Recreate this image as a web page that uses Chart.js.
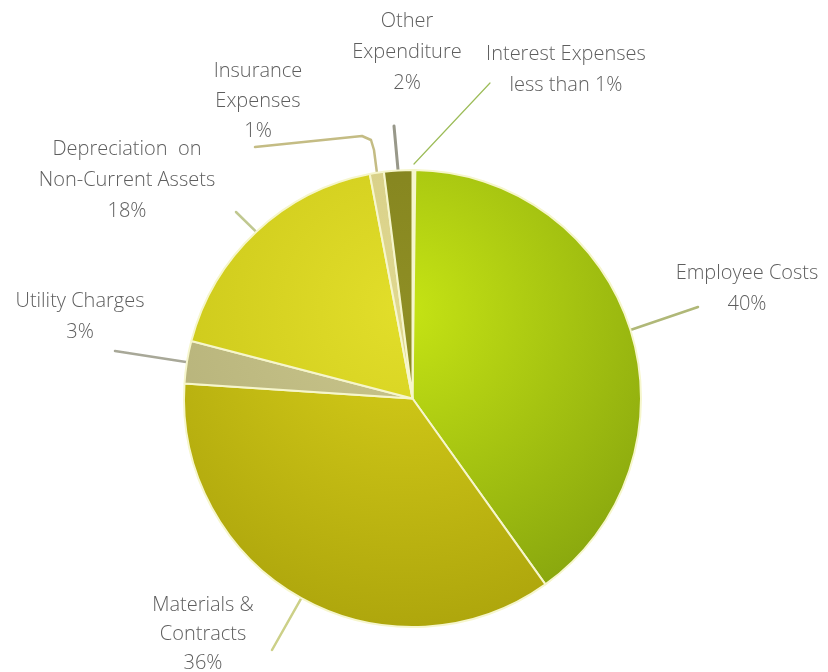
<!DOCTYPE html>
<html lang="en">
<head>
    <meta charset="UTF-8">
    <title>Expenditure Breakdown</title>
    <script src="https://cdn.jsdelivr.net/npm/chart.js"></script>
    <style>
        body { margin: 0; background: #fff; }
        #wrap { width: 828px; height: 672px; }
    </style>
</head>
<body>
    <div id="wrap">
        <canvas id="pieChart" width="828" height="672"></canvas>
    </div>

    <script>
        // categories and values (clockwise from 12 o'clock)
        let categories = ["Interest Expenses", "Employee Costs", "Materials & Contracts", "Utility Charges",
                          "Depreciation on Non-Current Assets", "Insurance Expenses", "Other Expenditure"];
        let values = [0.2, 40, 36, 3, 18, 1, 2];
        let pctText = ["less than 1%", "40%", "36%", "3%", "18%", "1%", "2%"];
        // how each category name is wrapped on the chart
        let nameLines = [["Interest Expenses"], ["Employee Costs"], ["Materials &", "Contracts"], ["Utility Charges"],
                         ["Depreciation  on", "Non-Current Assets"], ["Insurance", "Expenses"], ["Other", "Expenditure"]];

        // gradient colours per slice [inner, outer]
        let sliceColors = [
            ["#f6f6cc", "#f6f6cc"],
            ["#c6e414", "#86a40e"],
            ["#d8d01a", "#ada50c"],
            ["#cac68c", "#b2ae76"],
            ["#e2de2a", "#c6c216"],
            ["#e0d890", "#d0c880"],
            ["#8e8e24", "#7c7c1a"]
        ];

        // label placement: text centre x, first line y, leader end points (after the slice edge point)
        let labelLayout = [
            { x: 566, y: 54, lead: [[490, 83]], start: 10, color: "#9cbc58", width: 1.2, gap: 31 },
            { x: 747, y: 273, lead: [[698, 307]], start: 0, color: "#b0b878", width: 2.5, gap: 31 },
            { x: 203, y: 605, lead: [[272, 650]], start: 0, color: "#ccd088", width: 2.5, gap: 29 },
            { x: 80, y: 301, lead: [[115, 351]], start: 0, color: "#a8a898", width: 2.5, gap: 31 },
            { x: 127, y: 149, lead: [[236, 212]], start: 0, color: "#c0c890", width: 2.5, gap: 31 },
            { x: 258, y: 71, lead: [[374, 150], [371, 140], [362, 136], [255, 147]], start: 0, color: "#c4bc84", width: 2.5, gap: 30 },
            { x: 407, y: 21, lead: [[394, 126]], start: 0, color: "#98988a", width: 3, gap: 31 }
        ];

        const labelPlugin = {
            id: "outsideLabels",
            beforeDatasetsDraw(chart) {
                let ctx = chart.ctx;
                let arcs = chart.getDatasetMeta(0).data;
                ctx.save();
                ctx.lineCap = "round";
                ctx.lineJoin = "round";
                arcs.forEach(function (arc, i) {
                    let lay = labelLayout[i];
                    let p = arc.getProps(["x", "y", "startAngle", "endAngle", "outerRadius"], true);
                    let mid = (p.startAngle + p.endAngle) / 2;
                    let r = p.outerRadius - 4 + lay.start;
                    let sx = p.x + Math.cos(mid) * r;
                    let sy = p.y + Math.sin(mid) * r;
                    ctx.beginPath();
                    ctx.strokeStyle = lay.color;
                    ctx.lineWidth = lay.width;
                    ctx.moveTo(sx, sy);
                    lay.lead.forEach(function (pt) { ctx.lineTo(pt[0], pt[1]); });
                    ctx.stroke();
                });
                ctx.restore();
            },
            afterDatasetsDraw(chart) {
                let ctx = chart.ctx;
                ctx.save();
                ctx.font = "300 20px 'Open Sans', 'Lato', sans-serif";
                ctx.fillStyle = "#5e5e5e";
                ctx.textAlign = "center";
                ctx.textBaseline = "middle";
                labelLayout.forEach(function (lay, i) {
                    let lines = nameLines[i].concat([pctText[i]]);
                    lines.forEach(function (t, j) {
                        ctx.fillText(t, lay.x, lay.y + j * lay.gap);
                    });
                });
                ctx.restore();
            }
        };

        function sliceFill(context) {
            let chart = context.chart;
            let area = chart.chartArea;
            if (!area) return sliceColors[context.dataIndex][0];
            let cx = (area.left + area.right) / 2;
            let cy = (area.top + area.bottom) / 2;
            let g = chart.ctx.createRadialGradient(cx - 10, cy - 90, 0, cx - 10, cy - 90, 330);
            let c = sliceColors[context.dataIndex];
            g.addColorStop(0, c[0]);
            g.addColorStop(1, c[1]);
            return g;
        }

        new Chart(document.getElementById("pieChart"), {
            type: "pie",
            data: {
                labels: categories,
                datasets: [{
                    data: values,
                    backgroundColor: sliceFill,
                    borderColor: "#f6f6cc",
                    borderWidth: 2
                }]
            },
            options: {
                responsive: false,
                animation: false,
                layout: { padding: { left: 183, right: 186, top: 169, bottom: 44 } },
                plugins: {
                    legend: { display: false },
                    tooltip: { enabled: false }
                }
            },
            plugins: [labelPlugin]
        });
    </script>
</body>
</html>
